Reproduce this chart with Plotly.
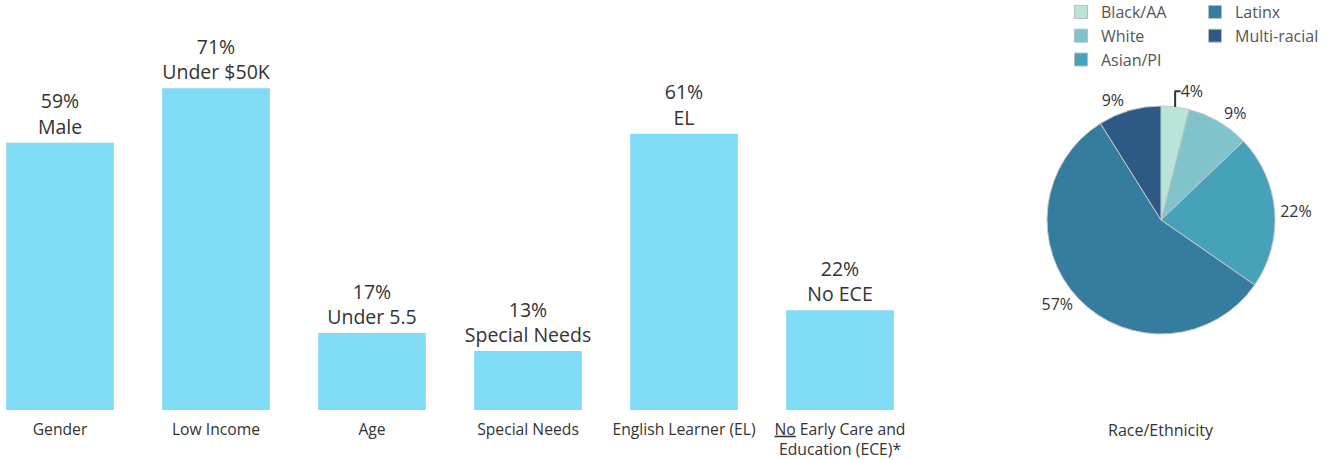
import plotly.graph_objects as go

categories = ["Gender", "Low Income", "Age", "Special Needs", "English Learner (EL)",
              "<u>No</u> Early Care and<br>Education (ECE)*"]
bar_values = [59, 71, 17, 13, 61, 22]
bar_sublabels = ["Male", "Under $50K", "Under 5.5", "Special Needs", "EL", "No ECE"]

race_labels = ["Black/AA", "White", "Asian/PI", "Latinx", "Multi-racial"]
race_values = [4, 9, 22, 57, 9]
race_colors = ["#b9e4d8", "#80c3ca", "#46a2b8", "#357d9f", "#2d5a85"]

FONT = "Open Sans"
TXT = "#333333"
W, H = 1331, 460

fig = go.Figure()

fig.add_trace(go.Bar(
    x=categories, y=bar_values,
    text=[f"{v}%<br>{s}" for v, s in zip(bar_values, bar_sublabels)],
    textposition="outside", cliponaxis=False, constraintext="none",
    textfont=dict(family=FONT, size=19.5, color=TXT),
    marker=dict(color="#7fdcf4", line=dict(width=0)),
    width=0.69, showlegend=False, hoverinfo="skip",
))

fig.add_trace(go.Pie(
    labels=race_labels, values=race_values,
    sort=False, direction="clockwise", rotation=0,
    marker=dict(colors=race_colors, line=dict(color="#c8c8c8", width=1)),
    texttemplate="%{value}%", textposition="outside",
    textfont=dict(family=FONT, size=16, color=TXT),
    domain=dict(x=[(1161 - 114) / W, (1161 + 114) / W],
                y=[(H - 220 - 114) / H, (H - 220 + 114) / H]),
    showlegend=False, hoverinfo="skip",
))

# legend entries (two columns)
for i, (lab, col) in enumerate(zip(race_labels, race_colors)):
    fig.add_trace(go.Scatter(
        x=[None], y=[None], mode="markers", name=lab,
        marker=dict(symbol="square", size=13, color=col, line=dict(color="#bbbbbb", width=1)),
        legend="legend" if i < 3 else "legend2",
    ))

px_per_cat = 156.0
x0_cat = -60 / px_per_cat
x_end_px = 918
fig.update_layout(
    width=W, height=H,
    margin=dict(l=0, r=0, t=0, b=0, autoexpand=False),
    paper_bgcolor="white", plot_bgcolor="white",
    font=dict(family=FONT, color=TXT),
    xaxis=dict(type="category", categoryorder="array", categoryarray=categories,
               domain=[0, x_end_px / W],
               range=[x0_cat, x0_cat + x_end_px / px_per_cat],
               showgrid=False, zeroline=False, showline=False, ticks="",
               tickfont=dict(family=FONT, size=15.7, color=TXT), ticklabelstandoff=8,
               automargin=False),
    yaxis=dict(domain=[(H - 410) / H, 1], range=[0, 410 / 4.53],
               visible=False, showgrid=False),
    legend=dict(x=1061 / W, y=1 + 5 / H, xanchor="left", yanchor="top",
                font=dict(family=FONT, size=16, color="#555555"),
                itemwidth=30, tracegroupgap=0, bgcolor="rgba(0,0,0,0)"),
    legend2=dict(x=1195 / W, y=1 + 5 / H, xanchor="left", yanchor="top",
                 font=dict(family=FONT, size=16, color="#555555"),
                 itemwidth=30, tracegroupgap=0, bgcolor="rgba(0,0,0,0)"),
    annotations=[dict(text="Race/Ethnicity", x=1161 / W, y=(H - 430) / H,
                      xref="paper", yref="paper", xanchor="center", yanchor="middle",
                      showarrow=False,
                      font=dict(family=FONT, size=16, color=TXT))],
)

fig.write_html("out.html", config={"displayModeBar": False},
               post_script="document.body.style.margin='0';document.body.style.overflow='hidden';")
